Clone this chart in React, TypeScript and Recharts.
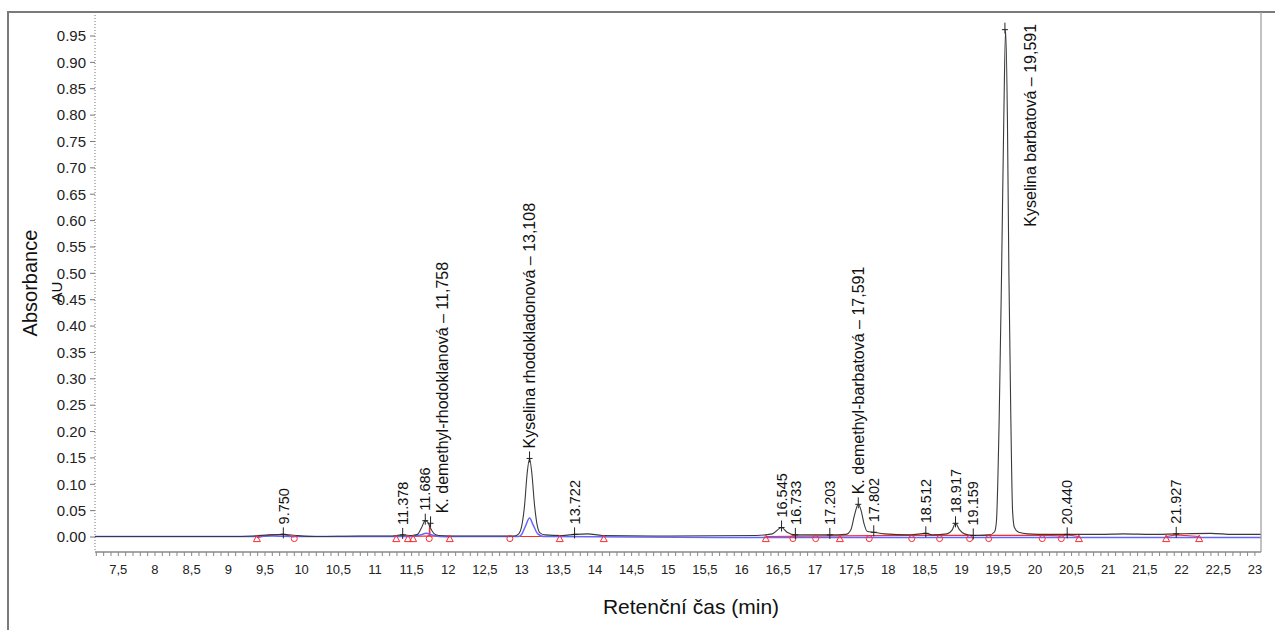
import { ComposedChart, Line, Scatter, XAxis, YAxis } from "recharts";

// black trace: retention time (min), absorbance (AU)
const mainTrace: [number, number][] = [
  [7.18, 0.001], [8.0, 0.001], [9.0, 0.001], [9.35, 0.002], [9.55, 0.004], [9.75, 0.005], [9.92, 0.003],
  [10.2, 0.001], [10.8, 0.002], [11.2, 0.002], [11.378, 0.004], [11.5, 0.003], [11.58, 0.005], [11.63, 0.016],
  [11.686, 0.031], [11.72, 0.028], [11.76, 0.016], [11.81, 0.006], [11.87, 0.003], [12.2, 0.002], [12.9, 0.002],
  [12.96, 0.006], [13.0, 0.02], [13.04, 0.06], [13.075, 0.12], [13.108, 0.149], [13.14, 0.12], [13.175, 0.062],
  [13.21, 0.024], [13.25, 0.008], [13.32, 0.004], [13.55, 0.003], [13.722, 0.005], [13.9, 0.006], [14.1, 0.003],
  [15.0, 0.002], [16.2, 0.003], [16.42, 0.006], [16.545, 0.018], [16.62, 0.009], [16.733, 0.004], [17.0, 0.004],
  [17.203, 0.004], [17.42, 0.005], [17.49, 0.014], [17.54, 0.042], [17.591, 0.062], [17.63, 0.05], [17.67, 0.025],
  [17.71, 0.011], [17.802, 0.009], [17.95, 0.006], [18.3, 0.004], [18.512, 0.007], [18.6, 0.004], [18.8, 0.006],
  [18.87, 0.013], [18.917, 0.026], [18.97, 0.014], [19.04, 0.006], [19.159, 0.003], [19.38, 0.004], [19.45, 0.01],
  [19.475, 0.03], [19.512, 0.22], [19.545, 0.5], [19.575, 0.79], [19.6, 0.962], [19.625, 0.79], [19.645, 0.5],
  [19.672, 0.22], [19.695, 0.05], [19.72, 0.018], [19.78, 0.009], [19.9, 0.006], [20.2, 0.005], [20.44, 0.005],
  [20.9, 0.005], [21.2, 0.006], [21.6, 0.005], [21.927, 0.006], [22.4, 0.007], [22.7, 0.005], [23.083, 0.005],
];

// blue trace
const secondTrace: [number, number][] = [
  [7.18, 0.001], [9.3, 0.001], [9.6, 0.002], [9.9, 0.001], [11.5, 0.001], [11.62, 0.004], [11.7, 0.007],
  [11.78, 0.004], [11.88, 0.001], [12.95, 0.001], [13.0, 0.005], [13.05, 0.02], [13.108, 0.036], [13.16, 0.022],
  [13.22, 0.006], [13.3, 0.001], [14.5, 0.0], [16.0, -0.001], [20.0, -0.001], [23.083, -0.001],
];

// red integration baseline (null = gap)
const baselineTrace: [number, number | null][] = [
  [9.39, -0.001], [9.55, 0.003], [9.75, 0.005], [9.9, 0.0], [10.0, null],
  [11.29, 0.001], [11.52, 0.001], [11.74, 0.002], [11.745, 0.024], [11.75, 0.002], [12.02, 0.0], [12.4, null],
  [12.84, 0.001], [13.52, 0.001], [14.12, 0.001], [15.0, null],
  [16.33, 0.001], [17.34, 0.002], [18.3, 0.003], [19.37, 0.003], [20.1, 0.003], [20.36, 0.002], [20.44, 0.004],
  [20.6, 0.001], [21.0, null], [21.79, 0.001], [21.927, 0.004], [22.24, 0.001],
];

const peakStartTimes = [9.39, 11.29, 11.45, 11.52, 12.02, 13.52, 14.12, 16.33, 17.34, 20.6, 21.79, 22.24];
const peakEndTimes = [9.9, 11.74, 12.84, 16.7, 17.01, 17.74, 18.32, 18.7, 19.11, 19.37, 20.1, 20.36];
const markerLevel = -0.003;

const peakTimes = [9.75, 11.378, 11.686, 11.758, 13.108, 13.722, 16.545, 16.733, 17.203, 17.591, 17.802, 18.512, 18.917, 19.159, 19.591, 20.44, 21.927];
const peakHeights = [0.005, 0.004, 0.031, 0.026, 0.149, 0.005, 0.018, 0.004, 0.004, 0.062, 0.009, 0.007, 0.026, 0.003, 0.962, 0.005, 0.006];
const peakLabels = [
  "9.750", "11.378", "11.686", "K. demethyl-rhodoklanová – 11,758", "Kyselina rhodokladonová – 13,108",
  "13.722", "16.545", "16.733", "17.203", "K. demethyl-barbatová – 17,591", "17.802", "18.512", "18.917",
  "19.159", "Kyselina barbatová – 19,591", "20.440", "21.927",
];

const xMajorTicks = [7.5, 8, 8.5, 9, 9.5, 10, 10.5, 11, 11.5, 12, 12.5, 13, 13.5, 14, 14.5, 15, 15.5, 16, 16.5, 17, 17.5, 18, 18.5, 19, 19.5, 20, 20.5, 21, 21.5, 22, 22.5, 23];
const xTickLabels = ["7,5", "8", "8,5", "9", "9,5", "10", "10,5", "11", "11,5", "12", "12,5", "13", "13,5", "14", "14,5", "15", "15,5", "16", "16,5", "17", "17,5", "18", "18,5", "19", "19,5", "20", "20,5", "21", "21,5", "22", "22,5", "23"];
const yTicks = [0, 0.05, 0.1, 0.15, 0.2, 0.25, 0.3, 0.35, 0.4, 0.45, 0.5, 0.55, 0.6, 0.65, 0.7, 0.75, 0.8, 0.85, 0.9, 0.95];

const toPoints = (arr: [number, number | null][]) => arr.map(([x, y]) => ({ x, y }));
const mainData = toPoints(mainTrace);
const secondData = toPoints(secondTrace);
const baselineData = toPoints(baselineTrace);
const startData = peakStartTimes.map((x) => ({ x, y: markerLevel }));
const endData = peakEndTimes.map((x) => ({ x, y: markerLevel }));
const peakData = peakTimes.map((x, i) => ({ x, y: peakHeights[i], text: peakLabels[i] }));

// minor ticks every 0.1 min
const xAllTicks: number[] = [];
for (let i = 72; i <= 230; i++) xAllTicks.push(i / 10);

const labelNudge: Record<string, { dx: number; dy: number }> = {
  "K. demethyl-rhodoklanová – 11,758": { dx: 12, dy: 0 },
  "Kyselina barbatová – 19,591": { dx: 25, dy: 207 },
};

const FONT = "'Liberation Sans', Arial, sans-serif";
const RED = "#ff2a2a";

const XTick = (props: any) => {
  const { x, y, payload } = props;
  const i = xMajorTicks.findIndex((t) => Math.abs(t - payload.value) < 1e-6);
  if (i < 0) return <g />;
  return (
    <text x={x} y={y} dy="0.71em" textAnchor="middle" fontSize={13} fill="#222" fontFamily={FONT}>
      {xTickLabels[i]}
    </text>
  );
};

const PeakMark = (props: any) => {
  const { cx, cy, payload } = props;
  const nudge = labelNudge[payload.text] ?? { dx: 0, dy: 0 };
  const isName = payload.text.includes("–");
  const fs = isName ? 16 : 14.5;
  const tx = cx + nudge.dx + fs * 0.36;
  const ty = cy - 10 + nudge.dy;
  return (
    <g>
      <line x1={cx} x2={cx} y1={cy - 7} y2={cy + 4} stroke="#222" strokeWidth={1} />
      <line x1={cx - 3} x2={cx + 3} y1={cy} y2={cy} stroke="#222" strokeWidth={1} />
      <text x={tx} y={ty} transform={`rotate(-90 ${tx} ${ty})`} fontSize={fs} fill="#111" fontFamily={FONT}>
        {payload.text}
      </text>
    </g>
  );
};

const Triangle = (props: any) => {
  const { cx, cy } = props;
  return <path d={`M${cx - 3.5},${cy + 3} L${cx + 3.5},${cy + 3} L${cx},${cy - 3.5} Z`} fill="none" stroke={RED} strokeWidth={1} />;
};

const Circle = (props: any) => {
  const { cx, cy } = props;
  return <circle cx={cx} cy={cy} r={3} fill="none" stroke={RED} strokeWidth={1} />;
};

export default function App() {
  return (
    <div style={{ position: "absolute", left: 0, top: 0, width: 1275, height: 630, background: "#fff" }}>
      <ComposedChart width={1275} height={630} margin={{ top: 12, right: 14, left: 0, bottom: 0 }}>
        <XAxis
          type="number"
          dataKey="x"
          domain={[7.182, 23.083]}
          ticks={xAllTicks}
          interval={0}
          tick={<XTick />}
          tickSize={4}
          tickMargin={9}
          height={78}
          stroke="#888"
          axisLine={{ stroke: "#888", strokeWidth: 1.5 }}
          tickLine={{ stroke: "#888" }}
          allowDataOverflow
        />
        <YAxis
          type="number"
          domain={[-0.0284, 0.9955]}
          ticks={yTicks}
          interval={0}
          width={95}
          tickSize={5}
          tickMargin={4}
          tickFormatter={(v: number) => v.toFixed(2)}
          tick={{ fontSize: 15, fill: "#222", fontFamily: FONT }}
          axisLine={{ stroke: "#777", strokeDasharray: "1 2" }}
          tickLine={{ stroke: "#777" }}
          allowDataOverflow
        />
        <Line data={baselineData} dataKey="y" type="linear" stroke={RED} strokeWidth={1.2} dot={false} connectNulls={false} isAnimationActive={false} />
        <Line data={secondData} dataKey="y" type="monotone" stroke="#6666ff" strokeWidth={1.5} dot={false} isAnimationActive={false} />
        <Line data={mainData} dataKey="y" type="monotone" stroke="#3a3a3a" strokeWidth={1.1} dot={false} isAnimationActive={false} />
        <Scatter data={startData} dataKey="y" shape={<Triangle />} isAnimationActive={false} />
        <Scatter data={endData} dataKey="y" shape={<Circle />} isAnimationActive={false} />
        <Scatter data={peakData} dataKey="y" shape={<PeakMark />} isAnimationActive={false} />
      </ComposedChart>
      <svg width={1275} height={630} style={{ position: "absolute", left: 0, top: 0, pointerEvents: "none" }}>
        <line x1={8} x2={8} y1={11} y2={630} stroke="#7a7a7a" strokeWidth={2} />
        <line x1={8} x2={1275} y1={12} y2={12} stroke="#7a7a7a" strokeWidth={2} />
        <line x1={1261} x2={1261} y1={12} y2={552} stroke="#999" strokeWidth={1.2} />
        <text x={37} y={283} transform="rotate(-90 37 283)" textAnchor="middle" fontSize={20} fill="#111" fontFamily={FONT}>
          Absorbance
        </text>
        <text x={62} y={292} transform="rotate(-90 62 292)" textAnchor="middle" fontSize={15} fill="#111" fontFamily={FONT}>
          AU
        </text>
        <text x={691} y={614} textAnchor="middle" fontSize={21} fill="#111" fontFamily={FONT}>
          Retenční čas (min)
        </text>
      </svg>
    </div>
  );
}
